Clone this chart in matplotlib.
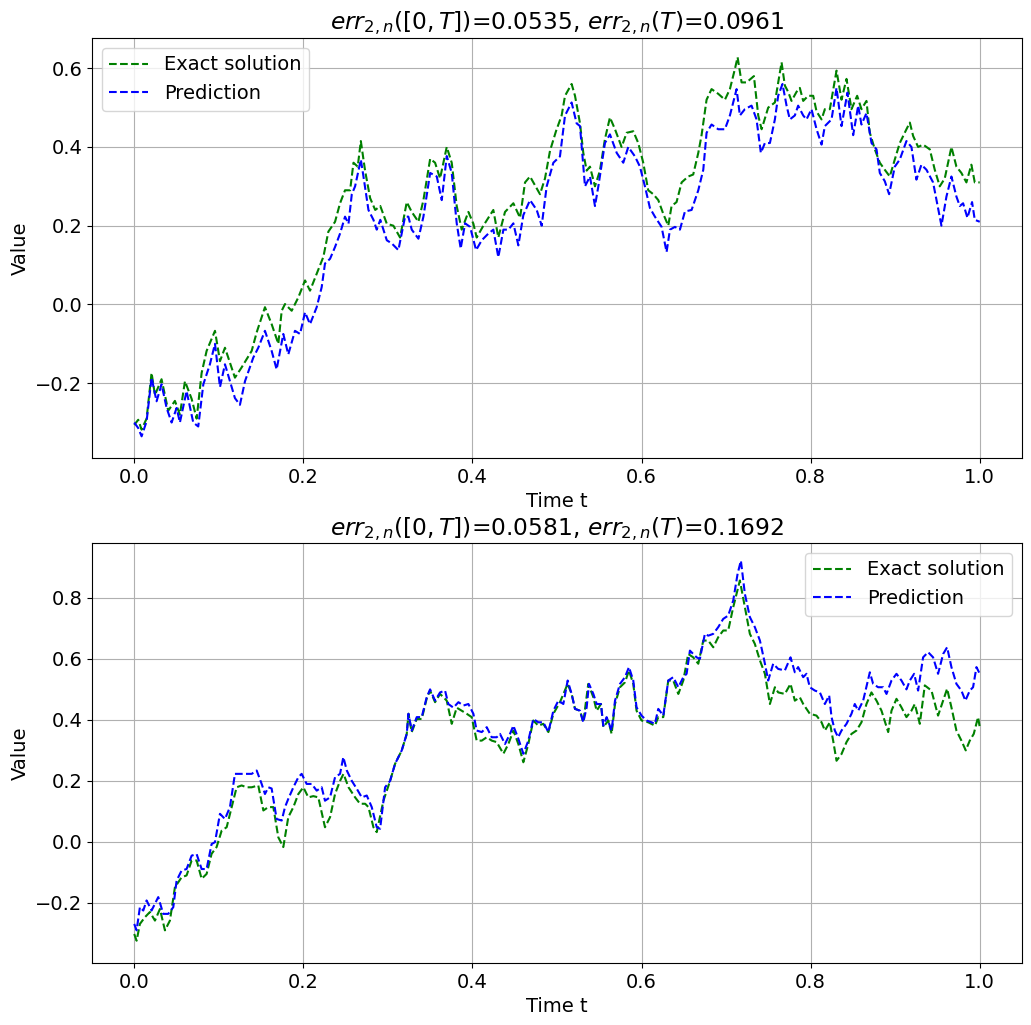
import numpy as np
import matplotlib
matplotlib.use("Agg")
import matplotlib.pyplot as plt

# ---- top panel ----
t_exact_1 = [0, .0047, .0087, .0146, .0205, .0245, .0323, .0402, .0481, .054,
             .06, .0679, .0738, .0797, .0856, .0955, .1014, .1073, .1112, .1191,
             .127, .1389, .1448, .1546, .1625, .1704, .1744, .1783, .1862, .1941,
             .202, .2079, .2158, .2237, .2296, .2375, .2434, .2493, .2553, .2593,
             .2643, .268, .273, .279, .285, .291, .2987, .3065, .3144, .3223,
             .3282, .3361, .342, .35, .3558, .3617, .3696, .3755, .3814, .3873,
             .3952, .4011, .405, .4129, .4247, .4306, .4385, .4484, .4563, .4622,
             .4681, .4799, .4858, .4917, .4988, .5055, .5095, .5173, .5213, .5272,
             .5311, .5351, .539, .5449, .5508, .5567, .5626, .5686, .5764, .5824,
             .5902, .5961, .602, .6079, .6139, .6198, .6257, .6316, .6355, .6414,
             .6474, .6552, .6611, .6671, .671, .6769, .6828, .6907, .6986, .7045,
             .7104, .7136, .7183, .7242, .7329, .738, .742, .7498, .7577, .7656,
             .7695, .7734, .7774, .7833, .7872, .7912, .7971, .803, .807, .8129,
             .8168, .8227, .8306, .8365, .8424, .8483, .855, .8601, .866, .87,
             .8759, .8818, .8877, .8936, .8995, .9054, .9133, .9173, .9212, .9271,
             .933, .9409, .9468, .9527, .9586, .9665, .9724, .9783, .9842, .9901,
             .9941, 1.0]
exact_1 = [-0.306, -0.293, -0.318, -0.29, -0.174, -0.23, -0.19, -0.27, -0.245, -0.28,
           -0.195, -0.24, -0.29, -0.174, -0.118, -0.067, -0.144, -0.11, -0.135, -0.186,
           -0.16, -0.118, -0.071, -0.007, -0.05, -0.10, -0.016, 0.001, -0.016, 0.018,
           0.061, 0.035, 0.078, 0.121, 0.185, 0.21, 0.257, 0.29, 0.29, 0.36,
           0.35, 0.415, 0.34, 0.27, 0.24, 0.25, 0.205, 0.20, 0.17, 0.26,
           0.235, 0.21, 0.265, 0.37, 0.36, 0.32, 0.40, 0.36, 0.25, 0.19,
           0.235, 0.205, 0.17, 0.20, 0.24, 0.17, 0.235, 0.257, 0.22, 0.31,
           0.325, 0.28, 0.32, 0.39, 0.44, 0.48, 0.53, 0.56, 0.53, 0.46,
           0.385, 0.34, 0.35, 0.30, 0.34, 0.42, 0.475, 0.445, 0.40, 0.436,
           0.44, 0.41, 0.36, 0.29, 0.28, 0.265, 0.23, 0.20, 0.25, 0.26,
           0.31, 0.325, 0.33, 0.385, 0.43, 0.52, 0.547, 0.535, 0.52, 0.547,
           0.598, 0.628, 0.564, 0.564, 0.58, 0.48, 0.445, 0.50, 0.513, 0.615,
           0.556, 0.54, 0.517, 0.54, 0.55, 0.517, 0.53, 0.53, 0.49, 0.47,
           0.496, 0.496, 0.594, 0.52, 0.573, 0.496, 0.53, 0.496, 0.517, 0.436,
           0.394, 0.36, 0.342, 0.325, 0.368, 0.41, 0.445, 0.462, 0.428, 0.40,
           0.406, 0.394, 0.342, 0.30, 0.32, 0.40, 0.35, 0.334, 0.31, 0.355,
           0.31, 0.31]

t_pred_1 = [0, .0047, .0087, .0146, .0205, .0264, .0323, .0383, .0442, .0501,
            .054, .0619, .0698, .0757, .0817, .0895, .0955, .1014, .1073, .1132,
            .1191, .125, .131, .1408, .1467, .1546, .1625, .1684, .1763, .1822,
            .1901, .1961, .202, .2079, .2158, .2217, .2256, .2316, .2375, .2434,
            .2493, .2534, .2573, .2612, .268, .2711, .277, .2829, .2868, .291,
            .2987, .3046, .3124, .3203, .3242, .3282, .3361, .342, .35, .3578,
            .3637, .3696, .3755, .3814, .3861, .3913, .3972, .4043, .411, .4188,
            .4247, .4306, .4366, .4425, .4484, .4543, .4602, .4681, .476, .4819,
            .4878, .4957, .5035, .5095, .5173, .5232, .5272, .5331, .539, .5449,
            .5489, .5567, .5626, .5706, .5784, .5843, .5922, .5981, .604, .6099,
            .6158, .6237, .6296, .6336, .6395, .6454, .6513, .6592, .6671, .673,
            .6769, .6828, .6907, .6986, .7045, .7124, .7163, .7222, .7301, .736,
            .7411, .7459, .7518, .7577, .7616, .7667, .7715, .7754, .7813, .7852,
            .7912, .7951, .801, .807, .8129, .8168, .8247, .8306, .8365, .8435,
            .8503, .8562, .8601, .866, .872, .8779, .8818, .8877, .8928, .8995,
            .9054, .9133, .9192, .9251, .931, .937, .9448, .9488, .9547, .9606,
            .9665, .9724, .9764, .9803, .9854, .9909, .9941, 1.0]
pred_1 = [-0.30, -0.314, -0.335, -0.297, -0.186, -0.246, -0.203, -0.263, -0.30, -0.263,
          -0.30, -0.22, -0.30, -0.31, -0.203, -0.152, -0.10, -0.21, -0.152, -0.195,
          -0.238, -0.255, -0.195, -0.135, -0.11, -0.067, -0.118, -0.165, -0.075, -0.127,
          -0.067, -0.075, -0.02, -0.05, -0.007, 0.044, 0.104, 0.116, 0.146, 0.18,
          0.223, 0.205, 0.28, 0.30, 0.368, 0.325, 0.24, 0.215, 0.19, 0.215,
          0.163, 0.155, 0.138, 0.223, 0.223, 0.19, 0.167, 0.223, 0.334, 0.325,
          0.265, 0.377, 0.334, 0.206, 0.142, 0.206, 0.197, 0.138, 0.163, 0.18,
          0.19, 0.12, 0.19, 0.19, 0.206, 0.15, 0.227, 0.265, 0.24, 0.20,
          0.30, 0.36, 0.376, 0.48, 0.513, 0.46, 0.453, 0.30, 0.325, 0.25,
          0.30, 0.41, 0.432, 0.385, 0.36, 0.40, 0.376, 0.35, 0.30, 0.245,
          0.223, 0.197, 0.133, 0.19, 0.197, 0.19, 0.236, 0.24, 0.29, 0.342,
          0.436, 0.457, 0.445, 0.445, 0.48, 0.547, 0.48, 0.496, 0.505, 0.47,
          0.385, 0.41, 0.41, 0.47, 0.53, 0.56, 0.505, 0.47, 0.48, 0.505,
          0.48, 0.47, 0.496, 0.445, 0.406, 0.453, 0.47, 0.55, 0.453, 0.538,
          0.43, 0.505, 0.457, 0.486, 0.41, 0.394, 0.334, 0.313, 0.28, 0.35,
          0.368, 0.415, 0.40, 0.317, 0.355, 0.342, 0.31, 0.266, 0.20, 0.274,
          0.325, 0.274, 0.25, 0.257, 0.22, 0.26, 0.215, 0.21]

# ---- bottom panel ----
t_exact_2 = [0, .0028, .0067, .0126, .0185, .0245, .0304, .0363, .0422, .0481,
             .056, .0619, .0679, .0738, .0797, .0856, .0915, .0974, .1034, .1093,
             .1152, .1211, .127, .1329, .1389, .1467, .1527, .1586, .1645, .1704,
             .1763, .1822, .1882, .1941, .2, .2059, .2118, .2177, .2256, .2316,
             .2375, .2434, .2475, .2534, .2612, .267, .2731, .277, .2829, .2868,
             .2947, .3026, .3085, .3164, .3223, .3243, .3282, .3341, .34, .3459,
             .3499, .3558, .3617, .3696, .3755, .3814, .3873, .3932, .3991, .405,
             .411, .4169, .4228, .4287, .4366, .4425, .4484, .4543, .4602, .4661,
             .472, .4779, .4838, .4898, .4957, .5035, .5126, .5173, .5213, .5272,
             .5311, .537, .543, .5469, .552, .5548, .5607, .5646, .5686, .5745,
             .5804, .5851, .5902, .5941, .6, .6079, .6158, .6198, .6257, .6316,
             .6375, .6435, .6494, .6552, .6611, .6671, .673, .6789, .6848, .6907,
             .6966, .7025, .7084, .7163, .7222, .7281, .734, .74, .7459, .7518,
             .7577, .7616, .7695, .7762, .7813, .7872, .7912, .799, .8069, .8129,
             .8168, .8227, .8266, .8306, .8365, .8424, .8483, .8542, .8601, .866,
             .8719, .8779, .8838, .8917, .8956, .9015, .9074, .9133, .9192, .9232,
             .9291, .935, .9429, .9507, .9567, .9614, .9665, .9724, .9783, .9834,
             .9882, .9929, .998, 1.0]
exact_2 = [-0.302, -0.324, -0.269, -0.247, -0.23, -0.258, -0.22, -0.29, -0.258, -0.149,
           -0.116, -0.11, -0.061, -0.061, -0.121, -0.105, -0.039, -0.017, 0.037, 0.048,
           0.114, 0.179, 0.185, 0.179, 0.179, 0.185, 0.103, 0.114, 0.114, 0.015,
           -0.017, 0.081, 0.114, 0.157, 0.179, 0.146, 0.15, 0.146, 0.048, 0.081,
           0.157, 0.20, 0.223, 0.179, 0.146, 0.125, 0.125, 0.114, 0.048, 0.032,
           0.135, 0.20, 0.256, 0.30, 0.354, 0.42, 0.36, 0.403, 0.403, 0.47,
           0.496, 0.458, 0.485, 0.463, 0.387, 0.44, 0.43, 0.42, 0.409, 0.332,
           0.332, 0.343, 0.332, 0.327, 0.289, 0.321, 0.365, 0.321, 0.261, 0.321,
           0.398, 0.381, 0.387, 0.36, 0.42, 0.458, 0.518, 0.485, 0.436, 0.43,
           0.392, 0.518, 0.474, 0.43, 0.452, 0.376, 0.398, 0.354, 0.452, 0.507,
           0.523, 0.562, 0.518, 0.43, 0.398, 0.392, 0.381, 0.409, 0.409, 0.529,
           0.529, 0.485, 0.529, 0.616, 0.605, 0.584, 0.66, 0.66, 0.638, 0.671,
           0.693, 0.693, 0.769, 0.857, 0.769, 0.682, 0.649, 0.595, 0.551, 0.452,
           0.507, 0.49, 0.485, 0.518, 0.463, 0.474, 0.452, 0.42, 0.414, 0.392,
           0.365, 0.392, 0.332, 0.266, 0.288, 0.327, 0.354, 0.365, 0.392, 0.452,
           0.49, 0.463, 0.43, 0.36, 0.43, 0.469, 0.441, 0.409, 0.43, 0.452,
           0.387, 0.513, 0.496, 0.414, 0.463, 0.502, 0.441, 0.365, 0.332, 0.30,
           0.332, 0.354, 0.409, 0.376]

t_pred_2 = [0, .0028, .0067, .0107, .0146, .0205, .0284, .0343, .0402, .0462,
            .0501, .056, .0619, .0679, .0738, .0797, .0856, .0915, .0955, .1014,
            .1073, .1132, .1191, .125, .131, .1389, .1448, .1507, .1546, .1586,
            .1625, .1684, .1744, .1783, .1822, .1882, .1941, .198, .2039, .2099,
            .2158, .2217, .2256, .2316, .2375, .2434, .2473, .2514, .2573, .2632,
            .2691, .275, .2809, .2868, .2908, .2967, .3026, .3085, .3164, .3223,
            .3243, .3282, .3341, .34, .3459, .3499, .3558, .3617, .3676, .3715,
            .3775, .3834, .3893, .3952, .4011, .405, .411, .4169, .4228, .4287,
            .4326, .4385, .4444, .4484, .4543, .4602, .4661, .472, .4779, .4838,
            .4898, .4957, .5016, .5075, .5126, .5173, .5213, .5272, .5311, .5351,
            .5378, .543, .5469, .552, .5548, .5587, .5646, .5686, .5745, .5804,
            .5851, .5902, .5941, .6, .6059, .6119, .6158, .6198, .6257, .6316,
            .6375, .6435, .6494, .6533, .6572, .6611, .6651, .669, .6749, .6789,
            .6848, .6907, .6966, .7025, .7084, .7136, .7175, .7222, .7281, .734,
            .74, .7451, .7498, .7557, .7616, .7695, .7762, .7813, .7852, .7912,
            .7951, .799, .805, .8109, .8168, .8219, .8247, .8286, .8325, .8365,
            .8424, .8483, .8522, .8562, .8621, .87, .8739, .8798, .8857, .8897,
            .8956, .9015, .9074, .9133, .9173, .9224, .9271, .933, .9389, .9448,
            .9507, .9567, .9614, .9665, .9724, .9783, .983, .9882, .9921, .9961,
            1.0]
pred_2 = [-0.269, -0.29, -0.214, -0.225, -0.192, -0.225, -0.181, -0.236, -0.236, -0.214,
          -0.127, -0.094, -0.089, -0.045, -0.04, -0.089, -0.089, -0.007, -0.001, 0.092,
          0.075, 0.114, 0.223, 0.223, 0.223, 0.223, 0.234, 0.19, 0.157, 0.179,
          0.175, 0.075, 0.07, 0.114, 0.141, 0.179, 0.212, 0.223, 0.19, 0.19,
          0.168, 0.179, 0.135, 0.146, 0.212, 0.223, 0.278, 0.234, 0.20, 0.174,
          0.146, 0.152, 0.114, 0.048, 0.043, 0.179, 0.20, 0.256, 0.30, 0.354,
          0.42, 0.365, 0.409, 0.409, 0.474, 0.50, 0.463, 0.49, 0.496, 0.452,
          0.44, 0.458, 0.447, 0.452, 0.42, 0.365, 0.36, 0.376, 0.343, 0.343,
          0.354, 0.321, 0.354, 0.381, 0.338, 0.289, 0.332, 0.403, 0.392, 0.392,
          0.36, 0.43, 0.463, 0.452, 0.529, 0.485, 0.436, 0.43, 0.392, 0.441,
          0.518, 0.485, 0.452, 0.452, 0.381, 0.409, 0.365, 0.463, 0.518, 0.54,
          0.573, 0.529, 0.441, 0.414, 0.398, 0.392, 0.387, 0.436, 0.414, 0.529,
          0.54, 0.507, 0.54, 0.551, 0.627, 0.616, 0.605, 0.60, 0.682, 0.676,
          0.682, 0.704, 0.731, 0.742, 0.791, 0.879, 0.922, 0.813, 0.737, 0.704,
          0.66, 0.595, 0.529, 0.584, 0.567, 0.562, 0.605, 0.556, 0.573, 0.54,
          0.551, 0.507, 0.496, 0.49, 0.452, 0.48, 0.409, 0.365, 0.343, 0.365,
          0.387, 0.42, 0.452, 0.43, 0.463, 0.556, 0.518, 0.507, 0.507, 0.485,
          0.529, 0.551, 0.529, 0.50, 0.529, 0.551, 0.496, 0.605, 0.622, 0.605,
          0.551, 0.616, 0.638, 0.573, 0.518, 0.496, 0.463, 0.496, 0.507, 0.573,
          0.551]

titles = [r"$err_{2,n}([0,T])$=0.0535, $err_{2,n}(T)$=0.0961",
          r"$err_{2,n}([0,T])$=0.0581, $err_{2,n}(T)$=0.1692"]

plt.rcParams["font.size"] = 14

fig, axes = plt.subplots(2, 1, figsize=(10.31, 10.25), dpi=100)
panels = [(t_exact_1, exact_1, t_pred_1, pred_1, "upper left", (-0.39, 0.677)),
          (t_exact_2, exact_2, t_pred_2, pred_2, "upper right", (-0.397, 0.98))]

for ax, (te, ex, tp, pr, loc, yl), title in zip(axes, panels, titles):
    ax.plot(te, ex, "--", color="green", label="Exact solution")
    ax.plot(tp, pr, "--", color="blue", label="Prediction")
    ax.set_xlim(-0.05, 1.05)
    ax.set_ylim(*yl)
    ax.set_xlabel("Time t")
    ax.set_ylabel("Value")
    ax.set_title(title)
    ax.grid(True)
    ax.legend(loc=loc)

axes[0].set_position([0.0892, 0.5532, 0.9021, 0.4098])
axes[1].set_position([0.0892, 0.0605, 0.9021, 0.4098])

fig.savefig("out.png", dpi=100)
